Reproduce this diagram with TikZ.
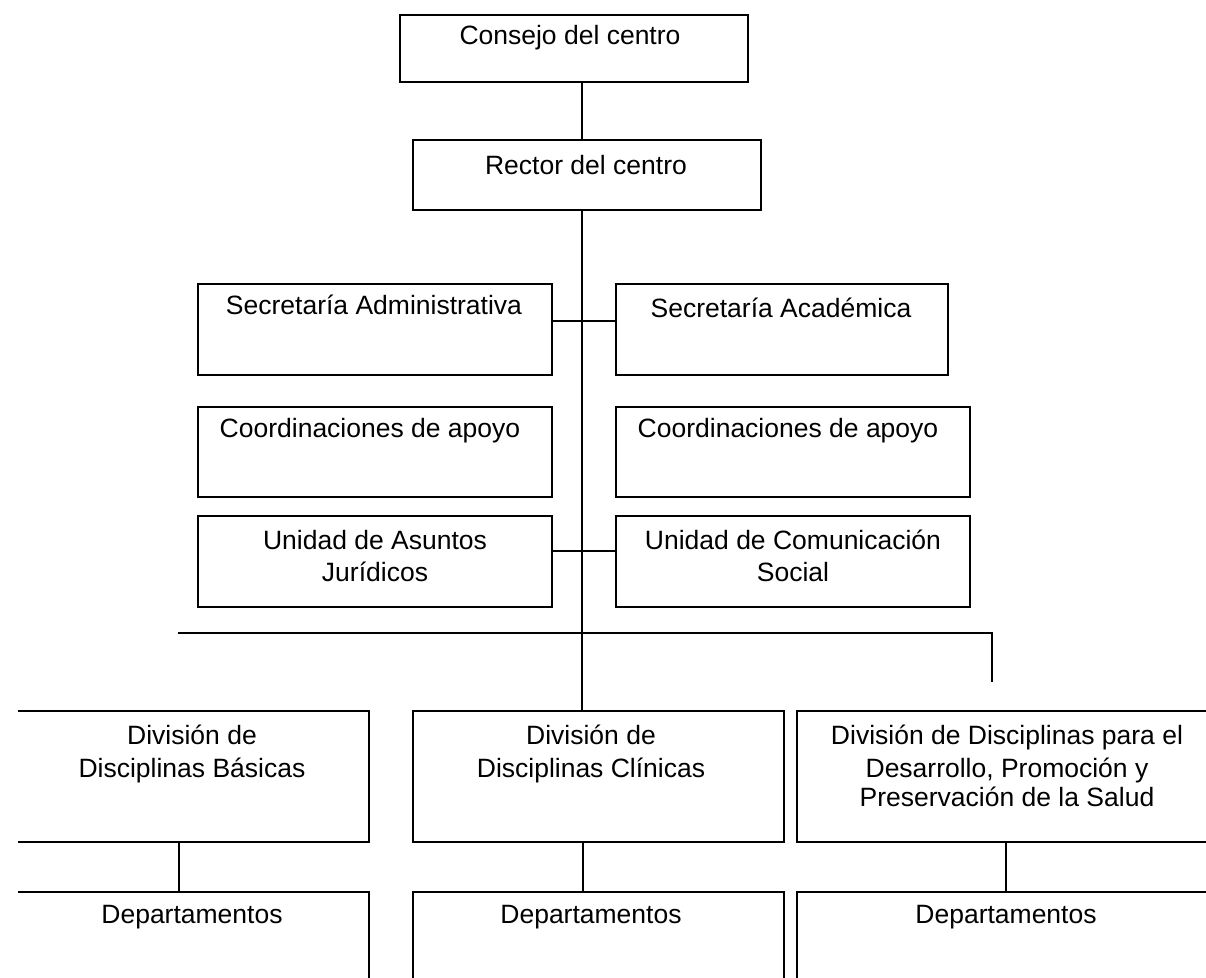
\documentclass[tikz,border=0pt]{standalone}
\usepackage{fontspec}
\setmainfont{Liberation Sans}
\newcommand{\bx}[5]{\node[box, minimum width={(#4-#2)*0.5pt}, minimum height={(#5-#3)*0.5pt}] (#1) at ({(#2+#4)/2},{(#3+#5)/2}) {};}
\newcommand{\tl}[4]{\node[txt] (#1) at (#2,#3) {#4};}
\begin{document}
\begin{tikzpicture}[x=0.5pt,y=-0.5pt,
  box/.style={draw=black, line width=1.3pt, inner sep=0pt, outer sep=0pt},
  txt/.style={anchor=base, inner sep=0pt, font=\fontsize{13.25}{15.9}\selectfont},
  conn/.style={draw=black, line width=1.2pt}]
\useasboundingbox (0,0) rectangle (1206,978);
\clip (0,0) rectangle (1206,978);
% top
\bx{consejo}{400}{15}{748}{82}
\tl{consejoT}{570}{45}{Consejo del centro}
\bx{rector}{413}{140}{761}{210}
\tl{rectorT}{586}{175}{Rector del centro}
% secretarias
\bx{sa}{198}{284}{552}{375}
\tl{saT}{374}{315}{Secretaría Administrativa}
\bx{sac}{616}{284}{948}{375}
\tl{sacT}{781}{318}{Secretaría Académica}
% coordinaciones
\bx{cl}{198}{407}{552}{497}
\tl{clT}{370}{438}{Coordinaciones de apoyo}
\bx{cr}{616}{407}{970}{497}
\tl{crT}{788}{438}{Coordinaciones de apoyo}
% unidades
\bx{ua}{198}{516}{552}{607}
\tl{uaT1}{375}{550}{Unidad de Asuntos}
\tl{uaT2}{375}{582}{Jurídicos}
\bx{uc}{616}{516}{970}{607}
\tl{ucT1}{793}{550}{Unidad de Comunicación}
\tl{ucT2}{793}{582}{Social}
% divisions
\begin{scope}
\clip (18,0) rectangle (1206,978);
\bx{divL}{-20}{711}{369}{842}
\bx{depL}{-20}{892}{369}{1000}
\end{scope}
\tl{divLT1}{192}{745}{División de}
\tl{divLT2}{192}{777}{Disciplinas Básicas}
\tl{depLT}{192}{923}{Departamentos}
\bx{divM}{413}{711}{784}{842}
\tl{divMT1}{591}{745}{División de}
\tl{divMT2}{591}{777}{Disciplinas Clínicas}
\bx{depM}{413}{892}{784}{1000}
\tl{depMT}{591}{923}{Departamentos}
\bx{divR}{797}{711}{1230}{842}
\tl{divRT1}{1007}{745}{División de Disciplinas para el}
\tl{divRT2}{1007}{777}{Desarrollo, Promoción y}
\tl{divRT3}{1007}{806}{Preservación de la Salud}
\bx{depR}{797}{892}{1230}{1000}
\tl{depRT}{1006}{923}{Departamentos}
% connectors
\draw[conn] (582,0 |- consejo.south) -- (582,0 |- rector.north);
\draw[conn] (582,0 |- rector.south) -- (582,0 |- divM.north);
\draw[conn] (sa.east |- 0,321) -- (sac.west |- 0,321);
\draw[conn] (ua.east |- 0,551) -- (uc.west |- 0,551);
\coordinate (busL) at (178,633);
\coordinate (busR) at (992,633);
\coordinate (busE) at (992,682);
\draw[conn] (busL) -- (busR) -- (busE);
\draw[conn] (179,0 |- divL.south) -- (179,0 |- depL.north);
\draw[conn] (583,0 |- divM.south) -- (583,0 |- depM.north);
\draw[conn] (1006,0 |- divR.south) -- (1006,0 |- depR.north);
\end{tikzpicture}
\end{document}
